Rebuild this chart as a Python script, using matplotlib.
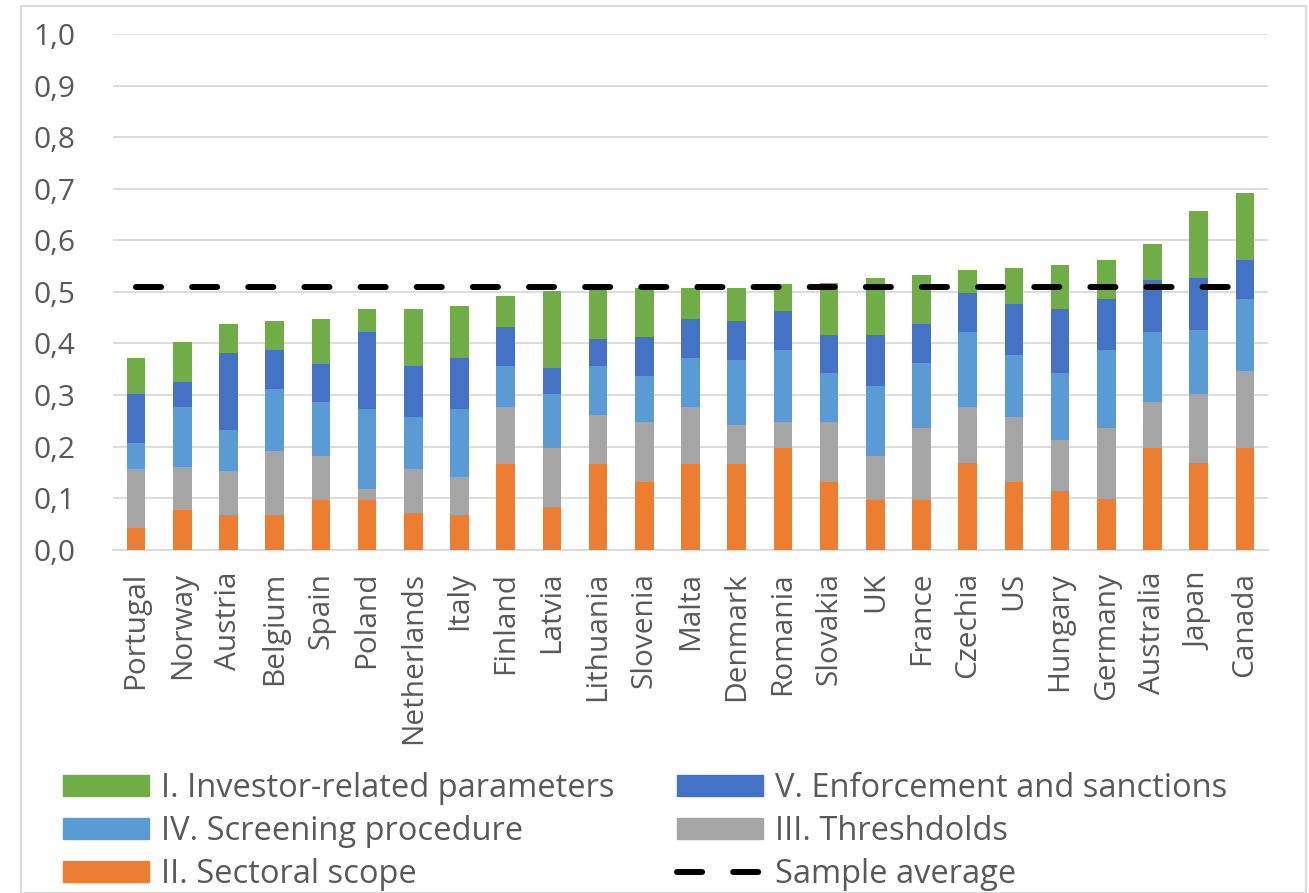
import numpy as np
import matplotlib
matplotlib.use("Agg")
import matplotlib.pyplot as plt
from matplotlib.lines import Line2D
from matplotlib.patches import Patch, Rectangle

plt.rcParams['font.family'] = ['Open Sans', 'DejaVu Sans']

countries = ["Portugal", "Norway", "Austria", "Belgium", "Spain", "Poland",
             "Netherlands", "Italy", "Finland", "Latvia", "Lithuania", "Slovenia",
             "Malta", "Denmark", "Romania", "Slovakia", "UK", "France", "Czechia",
             "US", "Hungary", "Germany", "Australia", "Japan", "Canada"]

# stacked components, bottom to top
sectoral = [0.042, 0.077, 0.067, 0.067, 0.097, 0.097, 0.072, 0.067, 0.167, 0.083,
            0.167, 0.132, 0.167, 0.167, 0.197, 0.132, 0.097, 0.097, 0.168, 0.132,
            0.113, 0.098, 0.197, 0.168, 0.197]
thresholds = [0.115, 0.084, 0.085, 0.125, 0.085, 0.020, 0.085, 0.075, 0.110, 0.114,
              0.095, 0.115, 0.110, 0.075, 0.050, 0.115, 0.085, 0.140, 0.109, 0.125,
              0.099, 0.139, 0.090, 0.134, 0.150]
screening = [0.049, 0.116, 0.080, 0.120, 0.104, 0.155, 0.100, 0.130, 0.080, 0.105,
             0.095, 0.090, 0.095, 0.125, 0.140, 0.095, 0.135, 0.125, 0.145, 0.120,
             0.131, 0.150, 0.135, 0.125, 0.140]
enforcement = [0.096, 0.049, 0.150, 0.075, 0.075, 0.151, 0.100, 0.100, 0.075, 0.050,
               0.051, 0.075, 0.075, 0.076, 0.075, 0.075, 0.100, 0.075, 0.075, 0.100,
               0.124, 0.100, 0.101, 0.100, 0.075]
investor = [0.070, 0.076, 0.055, 0.056, 0.086, 0.044, 0.110, 0.100, 0.060, 0.150,
            0.099, 0.095, 0.060, 0.064, 0.054, 0.100, 0.110, 0.095, 0.045, 0.070,
            0.085, 0.075, 0.069, 0.130, 0.130]
sample_average = 0.51

yticks = np.arange(0, 1.01, 0.1)
ytick_labels = [f"{v:.1f}".replace(".", ",") for v in yticks]

c_green = "#70AD47"
c_dblue = "#4472C4"
c_lblue = "#5B9BD5"
c_gray = "#A5A5A5"
c_orange = "#ED7D31"
txt = "#595959"

fig = plt.figure(figsize=(13.09, 8.93), dpi=100)
ax = fig.add_axes([0.0863, 0.3844, 0.8824, 0.5775])

x = np.arange(len(countries))
w = 0.40
series = [(sectoral, c_orange), (thresholds, c_gray), (screening, c_lblue),
          (enforcement, c_dblue), (investor, c_green)]
bottom = np.zeros(len(countries))
for vals, col in series:
    vals = np.array(vals)
    ax.bar(x, vals, w, bottom=bottom, color=col, zorder=3)
    bottom += vals

ax.plot([x[0], x[-1]], [sample_average, sample_average], color="black", lw=4.3,
        linestyle=(0, (4.2, 5.2)), dash_capstyle="round", zorder=4)

ax.set_xlim(-0.5, len(countries) - 0.5)
ax.set_ylim(0, 1.0)
ax.set_yticks(yticks)
ax.set_yticklabels(ytick_labels)
ax.set_xticks(x)
ax.set_xticklabels(countries, rotation=90, va="top", ha="center")
ax.tick_params(axis="both", length=0, labelsize=21.5, labelcolor=txt)
ax.tick_params(axis="y", pad=27)
ax.tick_params(axis="x", pad=16)
ax.grid(axis="y", color="#D9D9D9", lw=1.3, zorder=0)
for s in ["top", "right", "left"]:
    ax.spines[s].set_visible(False)
ax.spines["bottom"].set_color("#D9D9D9")
ax.spines["bottom"].set_linewidth(1.3)
ax.spines["bottom"].set_zorder(2)

handles = [Patch(color=c_green), Patch(color=c_lblue), Patch(color=c_orange),
           Patch(color=c_dblue), Patch(color=c_gray),
           Line2D([], [], color="black", lw=4.3, linestyle=(0, (4.2, 5.2)),
                  dash_capstyle="round")]
labels = ["I. Investor-related parameters", "IV. Screening procedure",
          "II. Sectoral scope", "V. Enforcement and sanctions", "III. Threshdolds",
          "Sample average"]
leg = fig.legend(handles, labels, ncol=2, loc="upper left",
                 bbox_to_anchor=(0.038, 0.150), frameon=False, fontsize=23.5,
                 handlelength=2.65, handleheight=0.62, handletextpad=0.37,
                 columnspacing=1.9, labelspacing=0.31, borderaxespad=0)
for t in leg.get_texts():
    t.set_color(txt)

fig.patches.append(Rectangle((0.016, 0.0), 0.982, 0.993, transform=fig.transFigure,
                             fill=False, edgecolor="#D9D9D9", lw=1.5))

fig.savefig("out.png", dpi=100)
